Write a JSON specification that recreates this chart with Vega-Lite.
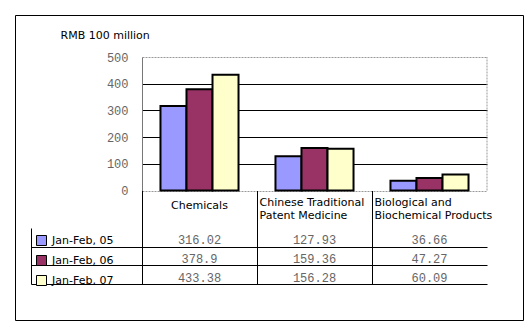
{
  "$schema": "https://vega.github.io/schema/vega-lite/v6.json",
  "autosize": "none",
  "width": 508,
  "height": 305,
  "padding": {"left": 15, "top": 15, "right": 9, "bottom": 12},
  "background": "white",
  "config": {"view": {"stroke": "black", "strokeWidth": 1, "fill": "white"}, "font": "DejaVu Sans"},
  "data": {"values": [
    {"category": "Chemicals", "series": "Jan-Feb, 05", "value": 316.02},
    {"category": "Chemicals", "series": "Jan-Feb, 06", "value": 378.9},
    {"category": "Chemicals", "series": "Jan-Feb, 07", "value": 433.38},
    {"category": "Chinese Traditional Patent Medicine", "series": "Jan-Feb, 05", "value": 127.93},
    {"category": "Chinese Traditional Patent Medicine", "series": "Jan-Feb, 06", "value": 159.36},
    {"category": "Chinese Traditional Patent Medicine", "series": "Jan-Feb, 07", "value": 156.28},
    {"category": "Biological and Biochemical Products", "series": "Jan-Feb, 05", "value": 36.66},
    {"category": "Biological and Biochemical Products", "series": "Jan-Feb, 06", "value": 47.27},
    {"category": "Biological and Biochemical Products", "series": "Jan-Feb, 07", "value": 60.09}
  ]},
  "resolve": {"scale": {"y": "independent"}, "axis": {"y": "independent"}},
  "layer": [
    {
      "mark": {"type": "bar", "stroke": "black", "strokeWidth": 2},
      "encoding": {
        "x": {
          "field": "category", "type": "nominal",
          "sort": ["Chemicals", "Chinese Traditional Patent Medicine", "Biological and Biochemical Products"],
          "scale": {"range": [127, 472], "paddingInner": 0, "paddingOuter": 0},
          "axis": {
            "orient": "bottom", "offset": -129.5, "title": null, "domain": false,
            "bandPosition": 0, "ticks": true, "tickSize": 94, "tickColor": "black", "tickWidth": 1,
            "labelAngle": 0,
            "labelOffset": {"condition": {"test": "datum.value == 'Chemicals'", "value": 0}, "value": -55},
            "labelPadding": {"condition": {"test": "datum.value == 'Chemicals'", "value": -79.5}, "value": -82.5},
            "labelAlign": {"condition": {"test": "datum.value == 'Chemicals'", "value": "center"}, "value": "left"},
            "labelBaseline": "middle",
            "labelFont": "DejaVu Sans", "labelFontSize": 11, "labelColor": "black",
            "labelLineHeight": 13, "labelOverlap": false, "labelBound": false, "labelFlush": false, "labelLimit": 0,
            "labelExpr": "datum.value == 'Chinese Traditional Patent Medicine' ? ['Chinese Traditional', 'Patent Medicine'] : datum.value == 'Biological and Biochemical Products' ? ['Biological and', 'Biochemical Products'] : datum.value"
          }
        },
        "xOffset": {"field": "series", "type": "nominal", "scale": {"paddingInner": 0, "paddingOuter": 0.71}},
        "y": {
          "field": "value", "type": "quantitative",
          "scale": {"domain": [0, 500], "range": [175.5, 42], "nice": false},
          "axis": {
            "orient": "left", "offset": -127, "values": [0, 100, 200, 300, 400, 500],
            "ticks": false, "domain": true, "domainColor": "#777", "labelPadding": 14,
            "labelFont": "Liberation Mono", "labelFontSize": 12, "labelColor": "#666",
            "grid": true,
            "gridColor": {"condition": {"test": "datum.value === 0 || datum.value === 500", "value": "#999"}, "value": "black"},
            "gridDash": {"condition": {"test": "datum.value === 0 || datum.value === 500", "value": [2, 1]}, "value": []},
            "gridWidth": 1,
            "title": "RMB 100 million", "titleAngle": 0, "titleAlign": "left", "titleBaseline": "middle",
            "titleX": -82, "titleY": 20, "titleFont": "DejaVu Sans", "titleFontSize": 11,
            "titleFontWeight": "normal", "titleColor": "black"
          }
        },
        "color": {
          "field": "series", "type": "nominal",
          "scale": {"range": ["#9999FF", "#993366", "#FFFFCC"]},
          "legend": {
            "orient": "none", "legendX": 21, "legendY": 220, "title": null, "padding": 0,
            "symbolType": "square", "symbolSize": 100, "symbolStrokeColor": "black", "symbolStrokeWidth": 1,
            "labelFont": "DejaVu Sans", "labelFontSize": 11, "labelColor": "black", "labelOffset": 5,
            "rowPadding": 5
          }
        }
      }
    },
    {
      "mark": {"type": "text", "font": "Liberation Mono", "fontSize": 12, "color": "#666", "baseline": "middle", "dy": 3},
      "encoding": {
        "x": {"field": "category", "type": "nominal", "sort": ["Chemicals", "Chinese Traditional Patent Medicine", "Biological and Biochemical Products"]},
        "y": {
          "field": "series", "type": "nominal",
          "scale": {"range": [213, 269], "paddingInner": 0, "paddingOuter": 0},
          "axis": {
            "orient": "left", "offset": -16, "title": null, "labels": false,
            "tickOffset": 9.33,
            "ticks": true, "tickSize": -111, "tickColor": "black", "tickWidth": 1,
            "grid": true, "gridColor": "black", "gridWidth": 1,
            "domain": true, "domainColor": "black"
          }
        },
        "text": {"field": "value", "type": "nominal"}
      }
    },
    {
      "transform": [{"filter": "datum.category === 'Biological and Biochemical Products' && datum.series === 'Jan-Feb, 05'"}],
      "mark": {"type": "rule", "stroke": "#999", "strokeDash": [2, 1]},
      "encoding": {
        "x": {"field": "category", "type": "nominal", "sort": ["Chemicals", "Chinese Traditional Patent Medicine", "Biological and Biochemical Products"], "bandPosition": 1},
        "y": {"datum": 0, "type": "quantitative", "scale": {"domain": [0, 500], "range": [175.5, 42]}, "axis": null},
        "y2": {"datum": 500}
      }
    }
  ]
}
